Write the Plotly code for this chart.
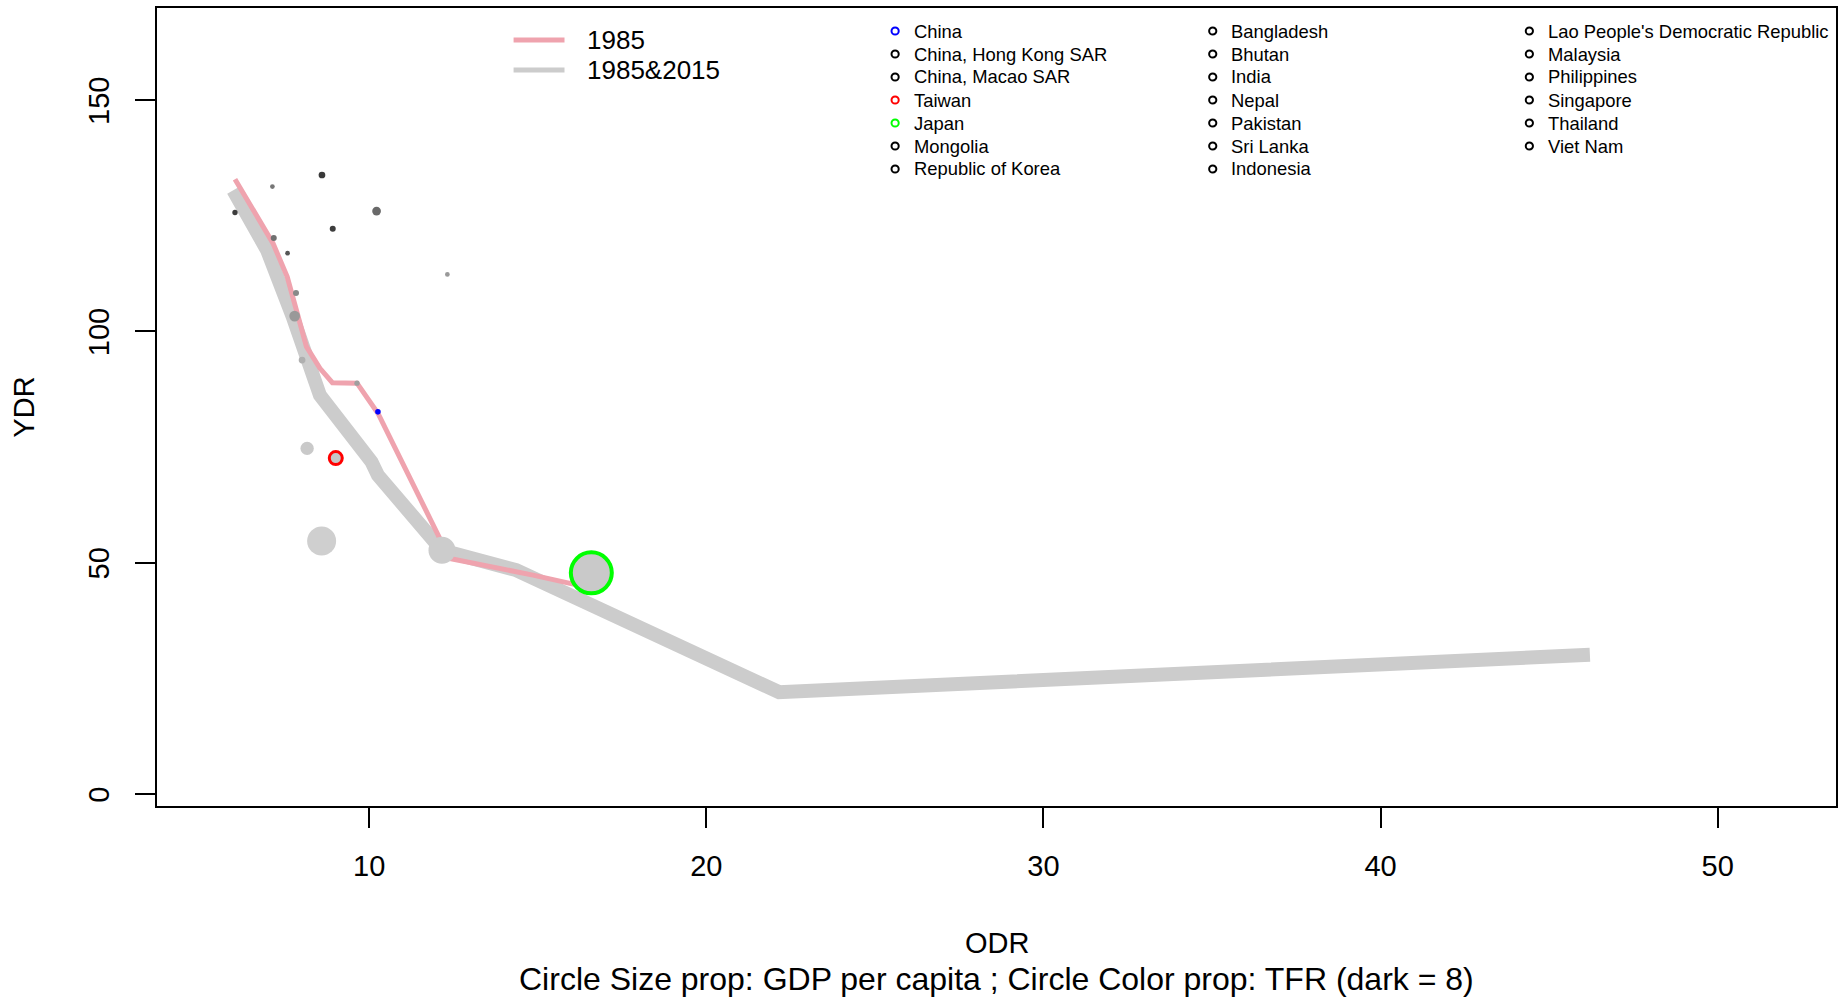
import plotly.graph_objects as go

# ---------------- data ----------------
# 1985 path (pink)
pink_odr = [6.02, 7.15, 7.57, 7.75, 8.14, 8.54, 8.91, 9.64, 10.26, 12.39, 14.86, 16.59]
pink_ydr = [132.9, 119.0, 111.8, 106.8, 96.7, 92.0, 88.9, 88.8, 82.3, 50.9, 47.3, 44.5]

# 1985 & 2015 path (gray)
gray_odr = [5.97, 6.97, 7.73, 8.54, 10.07, 10.26, 12.16, 14.36, 22.16, 46.21]
gray_ydr = [130.5, 117.6, 103.2, 86.2, 71.8, 68.9, 52.7, 48.4, 22.0, 30.1]

# circles: ODR, YDR, GDP per capita (size), TFR (shade)
pt_label = ["", "", "", "", "", "", "", "", "", "", "", "China", "", "", "Taiwan", "", "", "Japan"]
pt_odr = [6.02, 7.13, 8.60, 10.22, 8.92, 7.17, 7.58, 7.83, 7.79, 8.01, 9.64, 10.26, 12.32, 8.16, 9.01, 8.59, 12.16, 16.59]
pt_ydr = [125.7, 131.3, 133.8, 126.0, 122.2, 120.2, 116.9, 108.3, 103.3, 93.8, 88.8, 82.6, 112.3, 74.7, 72.6, 54.7, 52.7, 47.8]
pt_gdp = [1330, 1180, 1680, 2180, 1500, 1500, 1180, 1500, 2680, 1680, 1330, 900, 1180, 3330, 3250, 7250, 6750, 10250]
pt_tfr = [6.1, 4.3, 6.2, 4.7, 6.1, 4.5, 5.3, 3.7, 3.2, 2.5, 3.0, 2.4, 3.2, 1.7, 1.8, 1.5, 1.6, 1.7]

highlight = {"China": "#0000FF", "Taiwan": "#FF0000", "Japan": "#00FF00"}

legend_cols = [
    ["China", "China, Hong Kong SAR", "China, Macao SAR", "Taiwan", "Japan", "Mongolia", "Republic of Korea"],
    ["Bangladesh", "Bhutan", "India", "Nepal", "Pakistan", "Sri Lanka", "Indonesia"],
    ["Lao People's Democratic Republic", "Malaysia", "Philippines", "Singapore", "Thailand", "Viet Nam"],
]
x_ticks = [10, 20, 30, 40, 50]
y_ticks = [0, 50, 100, 150]

# ---------------- styling ----------------
FONT = "Liberation Sans, Arial, Helvetica, sans-serif"
W, H = 1839, 997
L, R, T, B = 157, 1, 8, 191
PW, PH = W - L - R, H - T - B


def px(fx):
    return (fx - L) / PW


def py(fy):
    return (H - B - fy) / PH


def shade(t):
    g = int(round(255 * (1 - t / 8.0)))
    return f"rgb({g},{g},{g})"


fill = [shade(t) for t in pt_tfr]
line_col = [highlight.get(n, fill[i]) for i, n in enumerate(pt_label)]
line_w = [{"China": 2, "Taiwan": 3, "Japan": 4}.get(n, 0) for n in pt_label]
for i, n in enumerate(pt_label):
    if n == "China":
        fill[i] = highlight[n]
sizes = [g / 250.0 for g in pt_gdp]

fig = go.Figure()
fig.add_trace(go.Scatter(x=gray_odr, y=gray_ydr, mode="lines",
                         line=dict(color="#CCCCCC", width=14), hoverinfo="skip", showlegend=False))
fig.add_trace(go.Scatter(x=pink_odr, y=pink_ydr, mode="lines",
                         line=dict(color="#EFA3AE", width=5), hoverinfo="skip", showlegend=False))
fig.add_trace(go.Scatter(x=pt_odr, y=pt_ydr, mode="markers", text=pt_label,
                         marker=dict(size=sizes, color=fill, opacity=1,
                                     line=dict(color=line_col, width=line_w)),
                         showlegend=False))

shapes = []
annotations = []

# line legend
for fy, col, lab in [(40, "#EFA3AE", "1985"), (70, "#CCCCCC", "1985&2015")]:
    shapes.append(dict(type="line", xref="paper", yref="paper", x0=px(514), x1=px(565),
                       y0=py(fy), y1=py(fy), line=dict(color=col, width=5)))
    annotations.append(dict(xref="paper", yref="paper", x=px(586), y=py(fy), text=lab,
                            showarrow=False, xanchor="left", yanchor="middle",
                            font=dict(family=FONT, size=26, color="black")))

# country legend
col_marker_x = [896, 1214, 1531]
col_text_x = [913, 1230, 1548]
for c, names in enumerate(legend_cols):
    for r, name in enumerate(names):
        fy = 31 + r * 23.0
        colr = highlight.get(name, "black")
        shapes.append(dict(type="circle", xref="paper", yref="paper",
                           xsizemode="pixel", ysizemode="pixel",
                           xanchor=px(col_marker_x[c]), yanchor=py(fy),
                           x0=-3.6, x1=3.6, y0=-3.6, y1=3.6,
                           line=dict(color=colr, width=2)))
        annotations.append(dict(xref="paper", yref="paper", x=px(col_text_x[c]), y=py(fy),
                                text=name, showarrow=False, xanchor="left", yanchor="middle",
                                font=dict(family=FONT, size=18.4, color="black")))

# axis titles / subtitle
annotations.append(dict(xref="paper", yref="paper", x=0.5, y=py(943), text="ODR",
                        showarrow=False, xanchor="center", yanchor="middle",
                        font=dict(family=FONT, size=29, color="black")))
annotations.append(dict(xref="paper", yref="paper", x=0.5, y=py(979),
                        text="Circle Size prop: GDP per capita ; Circle Color prop: TFR (dark = 8)",
                        showarrow=False, xanchor="center", yanchor="middle",
                        font=dict(family=FONT, size=32, color="black")))
annotations.append(dict(xref="paper", yref="paper", x=px(23.5), y=0.5, text="YDR",
                        showarrow=False, xanchor="center", yanchor="middle", textangle=-90,
                        font=dict(family=FONT, size=29, color="black")))

axis_common = dict(showgrid=False, zeroline=False, showline=True, mirror=True,
                   linecolor="black", linewidth=2, ticks="outside", ticklen=20,
                   tickwidth=1.5, tickcolor="black",
                   tickfont=dict(family=FONT, size=29, color="black"))

fig.update_layout(
    width=W, height=H,
    margin=dict(l=L, r=R, t=T, b=B),
    paper_bgcolor="white", plot_bgcolor="white",
    xaxis=dict(range=[3.707, 53.51], tickvals=x_ticks, ticklabelstandoff=13, **axis_common),
    yaxis=dict(range=[-2.6, 169.9], tickvals=y_ticks, tickangle=-90, ticklabelstandoff=14,
               ticklabelshift=5, **axis_common),
    shapes=shapes, annotations=annotations,
    font=dict(family=FONT),
)

fig.write_html("out.html")
